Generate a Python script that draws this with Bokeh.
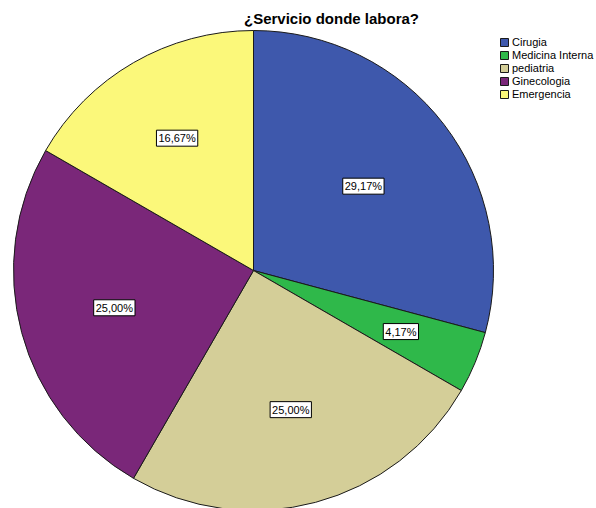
import math
from bokeh.plotting import figure
from bokeh.models import Range1d, ColumnDataSource, Label, Legend, LegendItem
from bokeh.embed import file_html
from bokeh.resources import INLINE

title_text = "¿Servicio donde labora?"
categories = ["Cirugia", "Medicina Interna", "pediatria", "Ginecologia", "Emergencia"]
percents = [29.17, 4.17, 25.00, 25.00, 16.67]
labels = ["29,17%", "4,17%", "25,00%", "25,00%", "16,67%"]
colors = ["#3E58AC", "#2FB84A", "#D4CE98", "#7A2779", "#FBF87A"]

W, H = 596, 508
cx, cy, R = 253, H - 270, 240

p = figure(width=W, height=H, output_backend="svg", toolbar_location=None,
           x_range=Range1d(0, W), y_range=Range1d(0, H), min_border=0)
p.axis.visible = False
p.grid.visible = False
p.outline_line_color = None
p.background_fill_color = "white"

total = sum(percents)
starts, ends, mids, fracs = [], [], [], []
cum = 0.0
for v in percents:
    f = v / total
    a0 = math.pi / 2 - (cum + f) * 2 * math.pi
    a1 = math.pi / 2 - cum * 2 * math.pi
    starts.append(a0)
    ends.append(a1)
    mids.append((a0 + a1) / 2)
    fracs.append(f)
    cum += f

src = ColumnDataSource(dict(cat=categories, start=starts, end=ends, color=colors))
r = p.wedge(x=cx, y=cy, radius=R, start_angle="start", end_angle="end",
            fill_color="color", line_color="#1a1a1a", line_width=1, source=src)

for m, lab, f in zip(mids, labels, fracs):
    half = f * math.pi
    k = (2.0 / 3.0) * math.sin(half) / half
    p.add_layout(Label(x=cx + k * R * math.cos(m), y=cy + k * R * math.sin(m), text=lab,
                       text_align="center", text_baseline="middle",
                       text_font="Liberation Sans", text_font_size="11px", text_color="black",
                       background_fill_color="white", border_line_color="black",
                       border_line_width=1, padding=2))

p.add_layout(Label(x=331, y=H - 18, text=title_text, text_align="center",
                   text_baseline="middle", text_font="Liberation Sans",
                   text_font_size="15px", text_font_style="bold", text_color="black"))

items = [LegendItem(label=c, renderers=[r], index=i) for i, c in enumerate(categories)]
legend = Legend(items=items, location=(499, 408), orientation="vertical",
                glyph_width=10, glyph_height=10, label_height=10, label_standoff=3,
                spacing=1, padding=0, margin=0, border_line_color=None,
                background_fill_alpha=0, label_text_font="Liberation Sans",
                label_text_font_size="11px", label_text_color="black")
p.add_layout(legend)

open("out.html", "w").write(file_html(p, INLINE))
